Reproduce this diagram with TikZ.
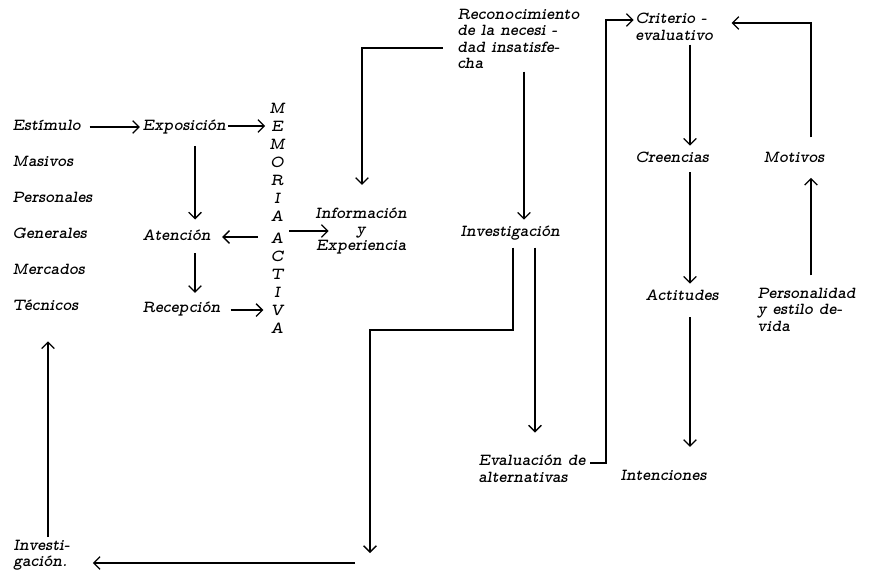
\documentclass[tikz,border=0pt]{standalone}
\usepackage{fontspec}
\usepackage{tikz}
\usetikzlibrary{arrows.meta}
\newfontfamily\typew{lmmonoproplt10-boldoblique.otf}

\begin{document}
\begin{tikzpicture}[x=0.025cm, y=-0.025cm,
        every node/.style={inner sep=0pt, font=\fontsize{12}{11.6}\typew},
        lbl/.style={anchor=west, text height=8pt, text depth=2.5pt},
        blk/.style={anchor=north west, align=left},
        flow/.style={line width=0.9pt, -{Straight Barb[length=4.5pt,width=9pt]}}]
        \useasboundingbox (0,0) rectangle (871,575);

        % Estimulos
        \node[lbl] (estim) at (12,127) {Estímulo};
        \node[lbl] (masiv) at (12,163) {Masivos};
        \node[lbl] (perso) at (12,199) {Personales};
        \node[lbl] (gener) at (12,235) {Generales};
        \node[lbl] (merca) at (12,271) {Mercados};
        \node[lbl] (tecni) at (12,307) {Técnicos};

        % Exposicion, atencion, recepcion
        \node[lbl] (expo) at (142,127) {Exposición};
        \node[lbl] (aten) at (142,237) {Atención};
        \node[lbl] (recep) at (142,309) {Recepción};

        % Memoria activa
        \foreach \l [count=\i] in {M,E,M,O,R,I,A}
            \node (m\i) at (277,90+18*\i) {\l};
        \foreach \l [count=\i from 8] in {A,C,T,I,V,A}
            \node (m\i) at (277,94+18*\i) {\l};

        \draw[flow, shorten <=6pt, shorten >=1.5pt] (estim) -- (expo);
        \draw[flow, shorten <=1.5pt, shorten >=4pt] (expo.east |- m2) -- (m2.west);
        \coordinate (xe) at (195,0);
        \draw[flow, shorten <=8pt, shorten >=7pt] (expo.south -| xe) -- (aten.north -| xe);
        \draw[flow, shorten <=6pt, shorten >=6pt] (aten.south -| xe) -- (recep.north -| xe);
        \draw[flow, shorten <=9pt, shorten >=8pt] (m8.west |- aten) -- (aten.east);
        \draw[flow, shorten <=7pt, shorten >=5pt] (recep.east |- m12) -- (m12.west);

        % Informacion y experiencia
        \node[align=center] (info) at (361,231) {Información\\y\\Experiencia};
        \draw[flow, shorten <=4pt, shorten >=23pt] (m8.east |- info.center) -- (info.center);

        % Reconocimiento de la necesidad
        \node[blk] (reco) at (457,9) {Reconocimiento\\de la necesi -\\dad insatisfe-\\cha};
        \coordinate (yl) at (0,48);
        \coordinate (xi) at (362,0);
        \draw[flow, shorten <=10pt, shorten >=16pt] (reco.west |- yl) -- (xi |- yl) -- (info.north -| xi);

        % Investigacion
        \node[lbl] (inv) at (460,233) {Investigación};
        \coordinate (xr) at (524,0);
        \draw[flow, shorten <=2pt, shorten >=4pt] (reco.south -| xr) -- (inv.north -| xr);

        \coordinate (xa) at (513,0);
        \coordinate (xb) at (535,0);
        \coordinate (yc) at (0,330);
        \coordinate (xd) at (370,0);
        \coordinate (dn) at (370,553);
        \draw[flow, shorten <=5pt] (inv.south -| xa) -- (xa |- yc) -- (xd |- yc) -- (dn);

        % Evaluacion de alternativas
        \node[blk] (evalu) at (478,455) {Evaluación de\\alternativas};
        \draw[flow, shorten <=5pt, shorten >=16pt] (inv.south -| xb) -- (evalu.north -| xb);

        % Criterio evaluativo
        \node[blk] (crit) at (635,13) {Criterio -\\evaluativo};
        \coordinate (xl) at (606,0);
        \coordinate (ye) at (0,463);
        \coordinate (yt) at (0,20);
        \draw[flow, shorten <=3pt, shorten >=1pt] (evalu.east |- ye) -- (xl |- ye) -- (xl |- yt) -- (crit.west |- yt);

        % Creencias, actitudes, intenciones
        \node[lbl] (cree) at (635,159) {Creencias};
        \node[lbl] (actit) at (645,297) {Actitudes};
        \node[lbl] (inten) at (620,477) {Intenciones};
        \coordinate (xc) at (690,0);
        \draw[flow, shorten <=3pt, shorten >=4pt] (crit.south -| xc) -- (cree.north -| xc);
        \draw[flow, shorten <=4pt, shorten >=4pt] (cree.south -| xc) -- (actit.north -| xc);
        \draw[flow, shorten <=9pt, shorten >=16pt] (actit.south -| xc) -- (inten.north -| xc);

        % Motivos y personalidad
        \node[lbl] (motiv) at (763,159) {Motivos};
        \node[blk] (pers) at (757,288) {Personalidad\\y estilo de-\\vida};
        \coordinate (xm) at (811,0);
        \coordinate (ym) at (0,23);
        \draw[flow, shorten <=10pt, shorten >=13pt] (motiv.north -| xm) -- (xm |- ym) -- (crit.east |- ym);
        \draw[flow, shorten <=9pt, shorten >=8pt] (pers.north -| xm) -- (motiv.south -| xm);

        % Vuelta a investigacion
        \node[blk] (inv2) at (13,540) {Investi-\\gación.};
        \coordinate (xv) at (48,0);
        \coordinate (hz) at (355,563);
        \draw[flow, shorten <=2pt, shorten >=19pt] (inv2.north -| xv) -- (tecni.south -| xv);
        \draw[flow, shorten >=16pt] (hz) -- (inv2.east |- hz);
    \end{tikzpicture}
\end{document}
